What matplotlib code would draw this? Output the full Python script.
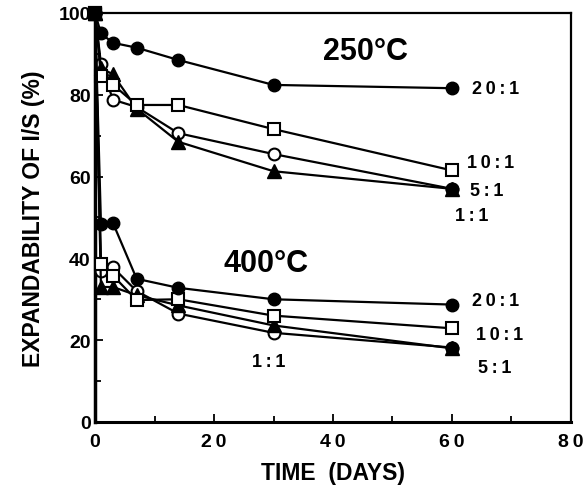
import matplotlib
matplotlib.use('Agg')
import matplotlib.pyplot as plt
from matplotlib.ticker import MultipleLocator, FuncFormatter

plt.rcParams['font.family'] = ['Liberation Sans', 'DejaVu Sans']
plt.rcParams['font.weight'] = 'bold'

# dias de tratamiento
dias = [0, 1, 3, 7, 14, 30, 60]

# 250 C
c250_20 = [100, 95, 92.7, 91.5, 88.5, 82.4, 81.6]
c250_10 = [100, 84.6, 82.5, 77.5, 77.5, 71.6, 61.5]
c250_5 = [100, 86.5, 85, 76.6, 68.5, 61.3, 57]
c250_1 = [100, 87.5, 78.8, 77, 70.6, 65.5, 57]

# 400 C
c400_20 = [100, 48.5, 48.7, 35, 32.8, 30, 28.7]
c400_10 = [100, 38.7, 35.8, 29.8, 30, 26, 22.9]
c400_5 = [100, 33, 33, 31, 28.5, 23.6, 18]
c400_1 = [100, 37, 37.8, 32, 26.5, 21.8, 18.2]

etiquetas_250 = ['20:1', '10:1', '5:1', '1:1']
etiquetas_400 = ['20:1', '10:1', '5:1', '1:1']

TS = '\u2009'  # espacio fino entre letras


def espaciar(s):
    return TS.join(s)


fig = plt.figure(figsize=(5.84, 4.89), dpi=100)
ax = fig.add_axes([0.1627, 0.135, 0.815, 0.8365])

lw = 1.6
kw_lleno = dict(color='black', lw=lw, marker='o', ms=9, mfc='black', mec='black')
kw_cuad = dict(color='black', lw=lw, marker='s', ms=8, mfc='white', mec='black', mew=1.5)
kw_circ = dict(color='black', lw=lw, marker='o', ms=8.5, mfc='white', mec='black', mew=1.5)
kw_tri = dict(color='black', lw=lw, marker='^', ms=9.5, mfc='black', mec='black')

for serie, kw in [(c250_1, kw_circ), (c250_5, kw_tri), (c250_10, kw_cuad), (c250_20, kw_lleno),
                  (c400_1, kw_circ), (c400_5, kw_tri), (c400_10, kw_cuad), (c400_20, kw_lleno)]:
    ax.plot(dias, serie, **kw, clip_on=False, zorder=3)

# punto inicial y finales superpuestos
ax.plot([0], [100], marker='s', ms=8, color='black', clip_on=False, zorder=4)
ax.plot([60], [c400_5[-1]], marker='o', ms=9, color='black', zorder=4)
ax.plot([60], [c250_5[-1]], marker='o', ms=9, color='black', zorder=4)

ax.text(45.5, 90.6, '250°C', fontsize=22, ha='center', va='center')
ax.text(28.8, 38.9, '400°C', fontsize=22, ha='center', va='center')

pos_250 = [(63.3, 81.6), (62.6, 63.5), (63.0, 56.6), (60.5, 50.6)]
pos_400 = [(63.4, 29.6), (64.0, 21.5), (64.3, 13.3), (26.4, 14.9)]
for txt, (x, y) in zip(etiquetas_250, pos_250):
    ax.text(x, y, espaciar(txt), fontsize=13, ha='left', va='center')
for txt, (x, y) in zip(etiquetas_400, pos_400):
    ax.text(x, y, espaciar(txt), fontsize=13, ha='left', va='center')

ax.set_xlim(0, 80)
ax.set_ylim(0, 100)
ax.xaxis.set_major_locator(MultipleLocator(20))
ax.xaxis.set_minor_locator(MultipleLocator(10))
ax.yaxis.set_major_locator(MultipleLocator(20))
ax.yaxis.set_minor_locator(MultipleLocator(10))
ax.xaxis.set_major_formatter(FuncFormatter(lambda v, p: espaciar('%d' % v)))
ax.tick_params(which='both', direction='in', width=1.3, labelsize=14, top=False, right=False)
ax.tick_params(which='major', length=6)
ax.tick_params(which='minor', length=4)
ax.tick_params(axis='x', pad=8)
ax.tick_params(axis='y', pad=3)
for s in ax.spines.values():
    s.set_linewidth(1.6)
ax.spines['left'].set_linewidth(2.5)
ax.spines['bottom'].set_linewidth(2.2)

ax.set_xlabel('TIME  (DAYS)', fontsize=16.5, fontweight='bold', labelpad=8)
ax.set_ylabel('EXPANDABILITY OF I/S (%)', fontsize=16.5, fontweight='bold', labelpad=10)

plt.savefig('out.png', dpi=100)
